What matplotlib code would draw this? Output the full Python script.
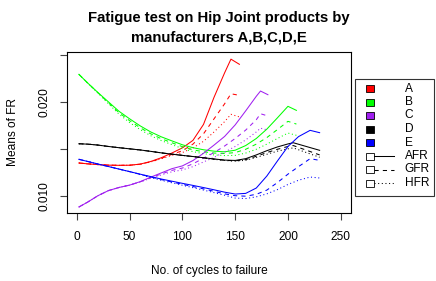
import matplotlib
matplotlib.use("Agg")
import matplotlib.pyplot as plt
from matplotlib.patches import Rectangle
from matplotlib.lines import Line2D

plt.rcParams['font.family'] = ['Liberation Sans', 'DejaVu Sans']

# ---------------- data ----------------
xA = [2, 10, 20, 30, 40, 50, 60, 70, 80, 90, 100, 110, 120, 130, 140, 146, 154]
A_AFR = [0.01349, 0.01340, 0.01332, 0.01326, 0.01324, 0.01325, 0.01337, 0.01365, 0.01405, 0.01455,
         0.01510, 0.01590, 0.01760, 0.02050, 0.02310, 0.02456, 0.02401]
A_GFR = [0.01349, 0.01340, 0.01332, 0.01326, 0.01324, 0.01325, 0.01336, 0.01362, 0.01398, 0.01440,
         0.01480, 0.01550, 0.01660, 0.01820, 0.01980, 0.02087, 0.02070]
A_HFR = [0.01349, 0.01340, 0.01332, 0.01326, 0.01324, 0.01325, 0.01335, 0.01360, 0.01394, 0.01430,
         0.01460, 0.01510, 0.01580, 0.01680, 0.01790, 0.01868, 0.01840]

xB = [2, 10, 20, 30, 40, 50, 60, 70, 80, 90, 100, 110, 120, 130, 140, 150, 160, 170, 180, 190, 200, 208]
B_AFR = [0.02294, 0.02205, 0.02100, 0.02000, 0.01900, 0.01820, 0.01745, 0.01680, 0.01628, 0.01585, 0.01543,
         0.01512, 0.01490, 0.01475, 0.01468, 0.01485, 0.01535, 0.01610, 0.01710, 0.01830, 0.01953, 0.01910]
B_GFR = [0.02294, 0.02205, 0.02098, 0.01990, 0.01885, 0.01800, 0.01725, 0.01660, 0.01608, 0.01565, 0.01523,
         0.01490, 0.01468, 0.01455, 0.01450, 0.01460, 0.01495, 0.01550, 0.01620, 0.01705, 0.01793, 0.01764]
B_HFR = [0.02294, 0.02203, 0.02095, 0.01980, 0.01870, 0.01780, 0.01705, 0.01640, 0.01588, 0.01545, 0.01503,
         0.01470, 0.01448, 0.01435, 0.01428, 0.01430, 0.01455, 0.01495, 0.01550, 0.01610, 0.01668, 0.01644]

xC = [2, 10, 20, 30, 40, 50, 60, 70, 80, 90, 100, 110, 120, 130, 140, 150, 160, 170, 174, 181]
C_AFR = [0.00880, 0.00930, 0.01000, 0.01055, 0.01088, 0.01113, 0.01150, 0.01198, 0.01243, 0.01288,
         0.01318, 0.01375, 0.01452, 0.01540, 0.01632, 0.01755, 0.01905, 0.02060, 0.02116, 0.02077]
C_GFR = [0.00880, 0.00930, 0.01000, 0.01055, 0.01088, 0.01113, 0.01148, 0.01192, 0.01232, 0.01270,
         0.01295, 0.01340, 0.01400, 0.01460, 0.01530, 0.01610, 0.01700, 0.01810, 0.01874, 0.01850]
C_HFR = [0.00880, 0.00930, 0.01000, 0.01055, 0.01088, 0.01113, 0.01146, 0.01186, 0.01222, 0.01255,
         0.01275, 0.01310, 0.01360, 0.01410, 0.01465, 0.01525, 0.01595, 0.01680, 0.01720, 0.01700]

xD = [2, 10, 20, 30, 40, 50, 60, 70, 80, 90, 100, 110, 120, 130, 140, 150, 160, 170, 180, 190, 200, 205, 230]
D_AFR = [0.01554, 0.01550, 0.01540, 0.01525, 0.01512, 0.01500, 0.01488, 0.01473, 0.01457, 0.01443, 0.01430, 0.01418,
         0.01405, 0.01392, 0.01380, 0.01376, 0.01395, 0.01435, 0.01480, 0.01520, 0.01552, 0.01565, 0.01484]
D_GFR = [0.01554, 0.01550, 0.01540, 0.01525, 0.01512, 0.01500, 0.01488, 0.01473, 0.01457, 0.01443, 0.01430, 0.01418,
         0.01404, 0.01390, 0.01378, 0.01372, 0.01385, 0.01420, 0.01460, 0.01495, 0.01525, 0.01535, 0.01435]
D_HFR = [0.01554, 0.01550, 0.01540, 0.01525, 0.01512, 0.01500, 0.01488, 0.01473, 0.01457, 0.01443, 0.01430, 0.01417,
         0.01403, 0.01388, 0.01376, 0.01368, 0.01378, 0.01408, 0.01442, 0.01475, 0.01500, 0.01510, 0.01410]

xE = [2, 10, 20, 30, 40, 50, 60, 70, 80, 90, 100, 110, 120, 130, 140, 150, 160, 170, 180, 190, 200, 210, 221, 230]
E_AFR = [0.01388, 0.01366, 0.01338, 0.01311, 0.01284, 0.01257, 0.01230, 0.01204, 0.01178, 0.01155, 0.01132, 0.01110,
         0.01087, 0.01063, 0.01038, 0.01018, 0.01025, 0.01082, 0.01210, 0.01370, 0.01525, 0.01630, 0.01697, 0.01672]
E_GFR = [0.01388, 0.01366, 0.01338, 0.01311, 0.01284, 0.01257, 0.01228, 0.01200, 0.01172, 0.01147, 0.01122, 0.01098,
         0.01073, 0.01047, 0.01020, 0.01000, 0.00995, 0.01015, 0.01060, 0.01140, 0.01230, 0.01310, 0.01395, 0.01377]
E_HFR = [0.01388, 0.01366, 0.01338, 0.01311, 0.01284, 0.01257, 0.01225, 0.01195, 0.01165, 0.01138, 0.01112, 0.01086,
         0.01060, 0.01033, 0.01005, 0.00975, 0.00970, 0.00988, 0.01020, 0.01065, 0.01120, 0.01165, 0.01199, 0.01189]

manufacturers = ['A', 'B', 'C', 'D', 'E']
colors = ['#FF0000', '#00FF00', '#A020F0', '#000000', '#0000FF']
rates = ['AFR', 'GFR', 'HFR']
series = {
    'A': (xA, [A_AFR, A_GFR, A_HFR]),
    'B': (xB, [B_AFR, B_GFR, B_HFR]),
    'C': (xC, [C_AFR, C_GFR, C_HFR]),
    'D': (xD, [D_AFR, D_GFR, D_HFR]),
    'E': (xE, [E_AFR, E_GFR, E_HFR]),
}
xticks = [0, 50, 100, 150, 200, 250]
yticks = [0.010, 0.015, 0.020, 0.025]
ytick_labels = ['0.010', '', '0.020', '']

# ---------------- figure ----------------
W, H = 436, 281
DPI = 100
fig = plt.figure(figsize=(W / DPI, H / DPI), dpi=DPI)

L, R, T, B = 67.3, 351.3, 52.3, 212.7
ax = fig.add_axes([L / W, 1 - B / H, (R - L) / W, (B - T) / H])

lw = 0.75
styles = ['-', (0, (4, 4)), (0, (1, 2.5))]
for m, c in zip(manufacturers, colors):
    xs, ys = series[m]
    for y, ls in zip(ys, styles):
        ax.plot(xs, y, color=c, lw=lw, linestyle=ls)

ax.set_xlim(-9, 260)
ax.set_ylim(0.00819, 0.02529)
ax.set_xticks(xticks)
ax.set_xticklabels([str(v) for v in xticks])
ax.set_yticks(yticks)
ax.set_yticklabels(ytick_labels, rotation=90, va='center')
ax.tick_params(axis='both', direction='out', length=5, width=0.8, color='#444444',
               labelsize=8.6, pad=8)
ax.tick_params(axis='y', pad=7)
for s in ax.spines.values():
    s.set_linewidth(0.8)

# titles / labels in pixel positions
def fx(px):
    return px / W

def fy(py):
    return 1 - py / H

fig.text(fx(219), fy(18), 'Fatigue test on Hip Joint products by', ha='center', va='center',
         fontsize=10.7, fontweight='bold')
fig.text(fx(219), fy(37), 'manufacturers A,B,C,D,E', ha='center', va='center',
         fontsize=10.7, fontweight='bold')
fig.text(fx(209), fy(271), 'No. of cycles to failure', ha='center', va='center', fontsize=8.6)
fig.text(fx(12.5), fy(132.5), 'Means of FR', ha='center', va='center', rotation=90, fontsize=8.6)

# legend (outside the plot, drawn in pixel coordinates)
lax = fig.add_axes([0, 0, 1, 1], facecolor='none')
lax.set_xlim(0, W)
lax.set_ylim(H, 0)
lax.axis('off')
lax.add_patch(Rectangle((355.3, 78.7), 433.7 - 355.3, 196 - 78.7, fill=False, edgecolor='#333333', lw=0.8))
row_y = [88.5, 102, 115.5, 129, 142.5, 156, 169.5, 183]
labels = manufacturers + rates
for i, lab in enumerate(labels):
    yy = row_y[i]
    if i < 5:
        lax.add_patch(Rectangle((365.5, yy - 3.5), 8, 7, facecolor=colors[i], edgecolor='black', lw=0.6))
    else:
        lax.add_patch(Rectangle((365.5, yy - 3.5), 8, 7, facecolor='white', edgecolor='black', lw=0.6))
        lax.add_line(Line2D([373.5, 394], [yy, yy], color='black', lw=lw, linestyle=styles[i - 5]))
    lax.text(404.7, yy, lab, ha='left', va='center', fontsize=8.6)

fig.savefig('out.png', dpi=DPI)
